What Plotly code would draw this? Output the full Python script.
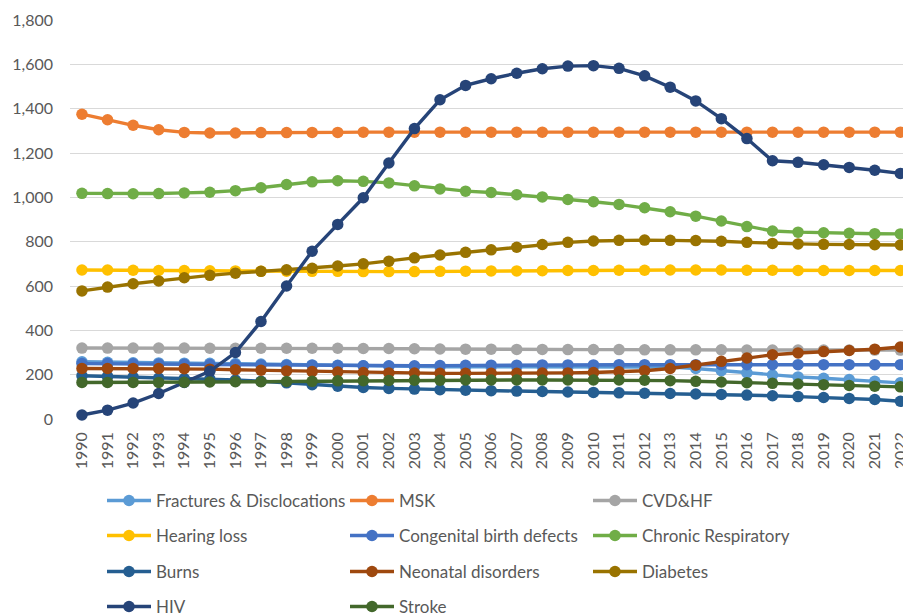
import plotly.graph_objects as go

years = list(range(1990, 2023))

fractures = [258,256,254,253,252,251,250,248,246,244,242,240,238,236,236,236,236,236,236,236,236,236,236,234,228,218,208,198,190,184,178,170,163]
msk = [1375,1350,1325,1305,1293,1290,1290,1292,1292,1293,1293,1294,1294,1294,1294,1294,1294,1294,1294,1294,1294,1294,1294,1294,1294,1294,1294,1294,1294,1294,1294,1294,1294]
cvd = [320,320,320,320,320,319,319,319,319,319,319,318,318,317,316,315,315,314,314,313,313,313,312,312,312,312,311,311,311,311,311,311,311]
hearing = [672,672,671,670,670,669,668,667,667,666,666,665,665,665,666,667,668,668,669,670,670,671,671,672,672,672,671,671,670,670,670,670,670]
congenital = [250,250,249,248,247,246,245,244,243,242,241,240,240,240,241,242,243,243,244,244,244,245,245,245,245,245,245,245,245,245,245,245,245]
chronic_resp = [1018,1017,1016,1017,1020,1023,1030,1043,1058,1070,1075,1072,1065,1052,1038,1028,1022,1012,1002,990,980,968,953,935,915,893,868,848,843,840,838,836,835]
burns = [195,192,189,185,182,180,176,170,163,155,148,142,138,135,132,130,128,126,124,122,120,118,116,115,113,111,108,105,101,97,93,88,80]
neonatal = [228,228,228,228,227,225,222,220,217,214,212,210,208,207,206,206,206,206,207,208,210,213,218,228,243,260,275,290,298,304,309,315,325]
diabetes = [578,595,610,623,637,648,658,666,673,680,690,700,712,727,740,752,763,775,787,797,803,806,807,806,805,802,797,792,790,788,787,786,785]
hiv = [18,40,72,115,165,215,300,440,600,757,878,998,1155,1310,1440,1505,1535,1560,1580,1592,1594,1582,1548,1497,1435,1355,1265,1165,1158,1147,1135,1122,1108]
stroke = [165,165,165,165,166,167,168,168,169,170,172,173,174,175,175,176,176,176,176,176,176,176,175,173,170,167,164,161,158,155,151,148,145]

series = [
    ("Fractures & Disclocations", fractures, "#5B9BD5", "legend"),
    ("MSK", msk, "#ED7D31", "legend"),
    ("CVD&HF", cvd, "#A5A5A5", "legend"),
    ("Hearing loss", hearing, "#FFC000", "legend2"),
    ("Congenital birth defects", congenital, "#4472C4", "legend2"),
    ("Chronic Respiratory", chronic_resp, "#70AD47", "legend2"),
    ("Burns", burns, "#255E91", "legend3"),
    ("Neonatal disorders", neonatal, "#9E480E", "legend3"),
    ("Diabetes", diabetes, "#997300", "legend3"),
    ("HIV", hiv, "#264478", "legend4"),
    ("Stroke", stroke, "#43682B", "legend4"),
]

FONT = "Lato"
fig = go.Figure()
for name, vals, color, leg in series:
    fig.add_trace(go.Scatter(
        x=years, y=vals, name=name, mode="lines+markers",
        line=dict(color=color, width=3.4),
        marker=dict(color=color, size=11.5),
        legend=leg, cliponaxis=False,
    ))

# page body has an 8px margin, so the figure is drawn 8px smaller
W, H = 903, 608
def legend_cfg(row_center_px):
    return dict(
        orientation="h", xref="container", yref="container",
        x=94 / W, xanchor="left",
        y=1 - row_center_px / H, yanchor="middle",
        entrywidth=184, entrywidthmode="pixels",
        itemwidth=44, traceorder="normal",
        font=dict(family=FONT, size=17, color="#595959"),
        bgcolor="rgba(0,0,0,0)", tracegroupgap=0,
    )

fig.update_layout(
    width=W, height=H,
    margin=dict(l=62, r=4, t=12, b=197, autoexpand=False),
    plot_bgcolor="white", paper_bgcolor="white",
    font=dict(family=FONT, color="#595959"),
    showlegend=True,
    legend=legend_cfg(493),
    legend2=legend_cfg(528),
    legend3=legend_cfg(564),
    legend4=legend_cfg(599),
    xaxis=dict(
        range=[1989.532, 2022.26], automargin=False,
        tickmode="array", tickvals=years, ticktext=[str(y) for y in years],
        tickangle=-90, showgrid=False, zeroline=False,
        showline=False, ticks="", ticklabeloverflow="allow",
        ticklabelstandoff=9,
        tickfont=dict(family=FONT, size=16, color="#595959"),
    ),
    yaxis=dict(
        range=[0, 1800], dtick=200, tickformat=",", automargin=False,
        showgrid=True, gridcolor="#D9D9D9", gridwidth=1,
        zeroline=False, showline=False, ticks="",
        ticklabelstandoff=16,
        tickfont=dict(family=FONT, size=16, color="#595959"),
    ),
)

fig.write_html("out.html")
